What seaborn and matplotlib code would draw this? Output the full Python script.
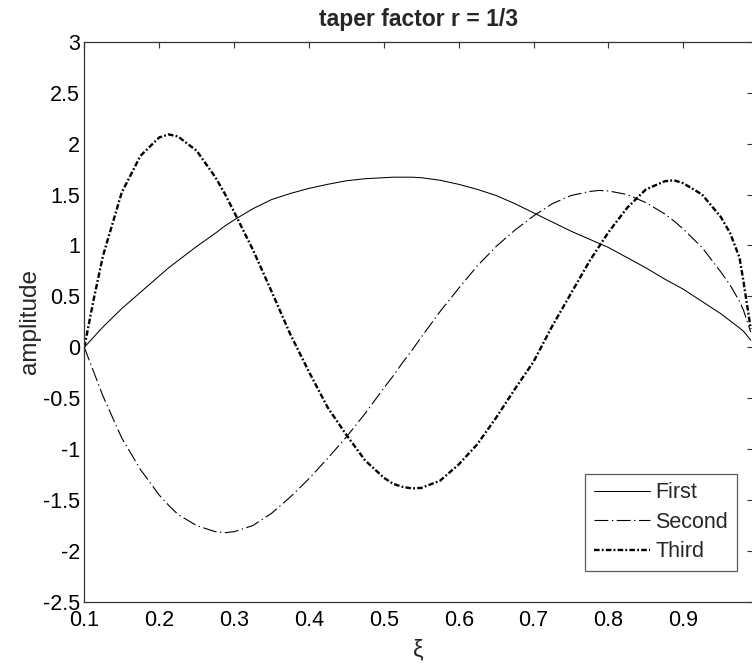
import numpy as np
import pandas as pd
import matplotlib
matplotlib.use("Agg")
import matplotlib.pyplot as plt
import seaborn as sns

# mode shapes
xi = [0.100, 0.1125, 0.125, 0.150, 0.175, 0.200, 0.2125, 0.225, 0.250, 0.275,
      0.2875, 0.300, 0.325, 0.350, 0.375, 0.400, 0.425, 0.450, 0.475, 0.500,
      0.5125, 0.525, 0.5375, 0.550, 0.575, 0.600, 0.625, 0.650, 0.675, 0.700,
      0.725, 0.750, 0.775, 0.7875, 0.800, 0.825, 0.850, 0.875, 0.8875, 0.900,
      0.925, 0.950, 0.9625, 0.975, 0.980, 0.990]
first = [0.00, 0.10, 0.20, 0.38, 0.54, 0.70, 0.78, 0.85, 0.99, 1.12,
         1.19, 1.25, 1.36, 1.45, 1.51, 1.56, 1.60, 1.635, 1.655, 1.665,
         1.67, 1.67, 1.67, 1.665, 1.64, 1.60, 1.55, 1.49, 1.41, 1.32,
         1.23, 1.14, 1.06, 1.02, 0.98, 0.88, 0.78, 0.67, 0.62, 0.57,
         0.45, 0.33, 0.26, 0.19, 0.16, 0.07]
second = [0.00, -0.24, -0.48, -0.89, -1.20, -1.45, -1.55, -1.64, -1.75, -1.81,
          -1.82, -1.81, -1.75, -1.63, -1.47, -1.29, -1.09, -0.88, -0.65, -0.40,
          -0.28, -0.15, -0.03, 0.10, 0.35, 0.58, 0.80, 0.99, 1.15, 1.29,
          1.41, 1.49, 1.53, 1.54, 1.535, 1.50, 1.42, 1.31, 1.24, 1.16,
          0.98, 0.74, 0.61, 0.45, 0.37, 0.15]
third = [0.00, 0.47, 0.90, 1.52, 1.88, 2.06, 2.09, 2.07, 1.93, 1.67,
         1.51, 1.33, 0.96, 0.55, 0.13, -0.24, -0.59, -0.86, -1.11, -1.28,
         -1.34, -1.37, -1.385, -1.38, -1.31, -1.15, -0.95, -0.69, -0.41, -0.14,
         0.21, 0.53, 0.85, 0.99, 1.13, 1.37, 1.55, 1.63, 1.64, 1.61,
         1.50, 1.28, 1.12, 0.88, 0.66, 0.18]
labels = ["First", "Second", "Third"]
x_ticks = [0.1, 0.2, 0.3, 0.4, 0.5, 0.6, 0.7, 0.8, 0.9]
y_ticks = [-2.5, -2, -1.5, -1, -0.5, 0, 0.5, 1, 1.5, 2, 2.5, 3]

sns.set_theme(style="white")
plt.rcParams["font.family"] = ["Liberation Sans", "DejaVu Sans"]
plt.rcParams["lines.scale_dashes"] = False

df = pd.DataFrame({"xi": xi, "First": first, "Second": second, "Third": third})

fig = plt.figure(figsize=(7.52, 6.65), dpi=100)
ax = fig.add_axes([84.3 / 752, 1 - 602 / 665, (753 - 84.3) / 752, (602 - 41.7) / 665])

sns.lineplot(data=df, x="xi", y="First", ax=ax, color="black", lw=0.75, label=labels[0])
sns.lineplot(data=df, x="xi", y="Second", ax=ax, color="black", lw=0.8,
             linestyle=(0, (10, 2.5, 1, 2.5)), label=labels[1])
sns.lineplot(data=df, x="xi", y="Third", ax=ax, color="black", lw=1.7,
             linestyle=(0, (4, 1.6, 1.3, 1.6)), label=labels[2])

ax.set_xlim(0.1, 0.993)
ax.set_ylim(-2.5, 3)
ax.set_xticks(x_ticks)
ax.set_xticklabels([f"{t:g}" for t in x_ticks])
ax.set_yticks(y_ticks)
ax.set_yticklabels([f"{t:g}" for t in y_ticks])
ax.tick_params(direction="in", length=4, width=0.8, color="#333333", top=True, right=True,
               labelsize=15.5, labelcolor="black")
ax.tick_params(axis="x", pad=6)
ax.tick_params(axis="y", pad=3)
for s in ax.spines.values():
    s.set_color("#333333")
    s.set_linewidth(0.9)

ax.set_title("taper factor r = 1/3", fontsize=16.5, fontweight="bold", pad=11)
ax.set_xlabel("ξ", fontsize=17, labelpad=6)
ax.set_ylabel("amplitude", fontsize=17.5, labelpad=1)

leg = ax.legend(loc="lower right", bbox_to_anchor=(736.7 / 752, 1 - 571 / 665),
                bbox_transform=fig.transFigure, borderaxespad=0, fancybox=False,
                frameon=True, fontsize=15.5, handlelength=2.6, handletextpad=0.25,
                labelspacing=0.4, borderpad=0.4)
leg.get_frame().set_edgecolor("#333333")
leg.get_frame().set_linewidth(0.9)

fig.savefig("out.png", dpi=100)
